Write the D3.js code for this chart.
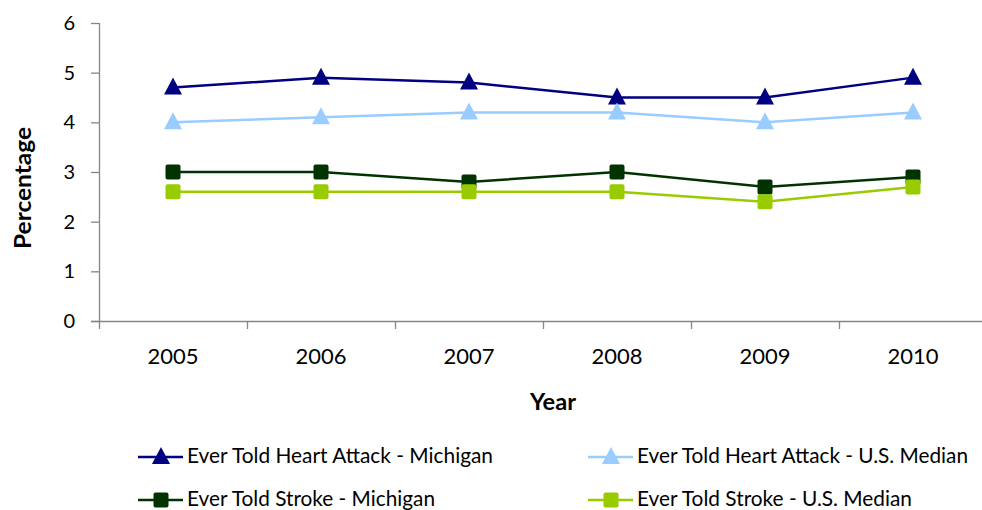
<!DOCTYPE html>
<html><head><meta charset="utf-8">
<script src="https://cdn.jsdelivr.net/npm/d3@7"></script>
<style>
body{margin:0;background:#fff;}
svg{display:block;font-family:Lato, "Open Sans", sans-serif;}
</style></head>
<body><svg id="c" width="982" height="510"></svg>
<script>
const years = ["2005","2006","2007","2008","2009","2010"];
const heartMI = [4.7, 4.9, 4.8, 4.5, 4.5, 4.9];
const heartUS = [4.0, 4.1, 4.2, 4.2, 4.0, 4.2];
const strokeMI = [3.0, 3.0, 2.8, 3.0, 2.7, 2.9];
const strokeUS = [2.6, 2.6, 2.6, 2.6, 2.4, 2.7];
const yTicks = [0,1,2,3,4,5,6];
const seriesNames = ["Ever Told Heart Attack - Michigan","Ever Told Heart Attack - U.S. Median","Ever Told Stroke - Michigan","Ever Told Stroke - U.S. Median"];

const series = [
  {name:seriesNames[0], values:heartMI, color:"#000080", shape:"tri"},
  {name:seriesNames[1], values:heartUS, color:"#99CCFF", shape:"tri"},
  {name:seriesNames[2], values:strokeMI, color:"#003300", shape:"sq"},
  {name:seriesNames[3], values:strokeUS, color:"#99CC00", shape:"sq"}
];

const svg = d3.select("#c");
const L=99, R=987, T=23, B=321;
const x = d3.scaleBand().domain(years).range([L,R]);
const y = d3.scaleLinear().domain([0,6]).range([B,T]);
const axisColor="#868686";

// y axis
const ya = svg.append("g").attr("transform",`translate(${L},0)`)
  .call(d3.axisLeft(y).tickValues(yTicks).tickFormat(d3.format("d")).tickSize(8).tickSizeOuter(0).tickPadding(16));
ya.attr("font-family",null).attr("font-size",null);
ya.selectAll("path,line").attr("stroke",axisColor).attr("stroke-width",1.3);
ya.selectAll("text").attr("font-size",20).attr("fill","#000");
ya.select(".domain").attr("d",`M0.5,${T}V${B}`);

// x axis
const xa = svg.append("g").attr("transform",`translate(0,${B})`)
  .call(d3.axisBottom(x).tickSize(0).tickPadding(27));
xa.attr("font-family",null).attr("font-size",null);
xa.selectAll("path").attr("stroke",axisColor).attr("stroke-width",1.3);
xa.select(".domain").attr("d",`M${L-8},0.5H${R+5}`);
xa.selectAll("text").attr("font-size",22).attr("fill","#000");
// boundary ticks
const bounds = years.map((d)=>x(d)).concat([R]);
svg.append("g").selectAll("line").data(bounds).join("line")
  .attr("x1",d=>d+0.5).attr("x2",d=>d+0.5).attr("y1",B).attr("y2",B+8)
  .attr("stroke",axisColor).attr("stroke-width",1.3);

// titles
svg.append("text").attr("x",553).attr("y",410).attr("text-anchor","middle")
  .attr("font-size",23).attr("font-weight","bold")
  .attr("textLength",46).attr("lengthAdjust","spacingAndGlyphs").text("Year");
svg.append("text").attr("transform","translate(31,188) rotate(-90)").attr("text-anchor","middle")
  .attr("font-size",23).attr("font-weight","bold")
  .attr("textLength",122).attr("lengthAdjust","spacingAndGlyphs").text("Percentage");

const cx = d=>x(d)+x.bandwidth()/2;
function drawMarker(g, shape, color){
  if(shape==="tri"){
    g.append("path").attr("d","M0,-10L9,7L-9,7Z").attr("fill",color);
  } else {
    g.append("rect").attr("x",-7.5).attr("y",-7.5).attr("width",15).attr("height",15).attr("rx",2).attr("fill",color);
  }
}
const line = d3.line().x((d,i)=>cx(years[i])).y(d=>y(d));
series.forEach(s=>{
  svg.append("path").attr("d",line(s.values)).attr("fill","none").attr("stroke",s.color).attr("stroke-width",2.5);
});
series.forEach(s=>{
  s.values.forEach((v,i)=>{
    const g = svg.append("g").attr("transform",`translate(${cx(years[i])},${y(v)})`);
    drawMarker(g,s.shape,s.color);
  });
});

// legend
const legPos = [[138,457],[588,457],[138,500],[588,500]];
const legText = [[187,306],[637,331],[187,248],[637,275]];
series.forEach((s,i)=>{
  const [lx,ly]=legPos[i];
  const g = svg.append("g").attr("transform",`translate(${lx},${ly})`);
  g.append("line").attr("x1",0).attr("x2",45).attr("y1",0).attr("y2",0).attr("stroke",s.color).attr("stroke-width",2.5);
  const mg = g.append("g").attr("transform",`translate(23,0)`);
  drawMarker(mg,s.shape,s.color);
  svg.append("text").attr("x",legText[i][0]).attr("y",ly+6).attr("font-size",21)
    .attr("textLength",legText[i][1]).attr("lengthAdjust","spacingAndGlyphs").text(s.name);
});
</script></body></html>
